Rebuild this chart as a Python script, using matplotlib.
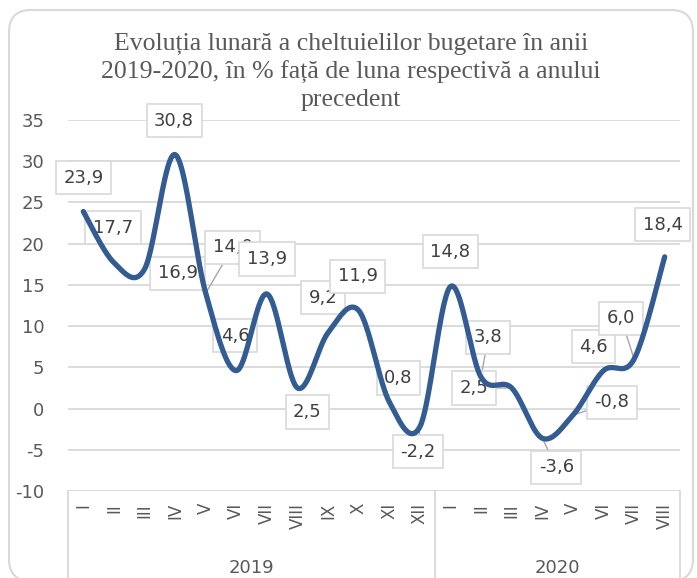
import numpy as np
import matplotlib
matplotlib.use("Agg")
import matplotlib.pyplot as plt
from matplotlib.patches import FancyBboxPatch
from matplotlib.transforms import IdentityTransform

# ---------------- data ----------------
months_2019 = ["I", "II", "III", "IV", "V", "VI", "VII", "VIII", "IX", "X", "XI", "XII"]
months_2020 = ["I", "II", "III", "IV", "V", "VI", "VII", "VIII"]
years = ["2019", "2020"]
values_2019 = [23.9, 17.7, 16.9, 30.8, 14.0, 4.6, 13.9, 2.5, 9.2, 11.9, 0.8, -2.2]
values_2020 = [14.8, 3.8, 2.5, -3.6, -0.8, 4.6, 6.0, 18.4]
y_ticks = [-10, -5, 0, 5, 10, 15, 20, 25, 30, 35]
title = ("Evoluția lunară a cheltuielilor bugetare în anii\n"
         "2019-2020, în % față de luna respectivă a anului\n"
         "precedent")

# label placement (pixel offsets of each data label box) and leader-line flags
label_offsets = [(0, 34), (-1, 35), (33, -4), (-1, 34), (27, 46), (-1, 35),
                 (0, 35), (10, -24), (-5, 35), (-1, 34), (9, 24), (-2, -25),
                 (0, 35), (7, 40), (-38, 0), (14, -29), (39, 13), (-10, 24),
                 (-13, 41), (-2, 32)]
leaders = [False, False, False, False, True, False, False, False, False, False,
           False, True, False, True, True, True, True, False, True, False]

W, H = 697, 578
LINE_COLOR = "#335c92"
GRID = "#d9d9d9"
TXT = "#595959"

labels = months_2019 + months_2020
values = values_2019 + values_2020
n = len(values)
xs = np.arange(n) + 0.5


def smooth(x, y, steps=40):
    pts = np.column_stack([x, y]).astype(float)
    outx, outy = [], []
    for i in range(len(pts) - 1):
        p0 = pts[i - 1] if i > 0 else pts[i]
        p1 = pts[i]
        p2 = pts[i + 1]
        p3 = pts[i + 2] if i + 2 < len(pts) else pts[i + 1]
        c1 = p1 + (p2 - p0) / 6.0
        c2 = p2 - (p3 - p1) / 6.0
        t = np.linspace(0, 1, steps)[:, None]
        b = ((1 - t) ** 3) * p1 + 3 * ((1 - t) ** 2) * t * c1 + 3 * (1 - t) * t ** 2 * c2 + t ** 3 * p2
        if i > 0:
            b = b[1:]
        outx.extend(b[:, 0])
        outy.extend(b[:, 1])
    return np.array(outx), np.array(outy)


fig = plt.figure(figsize=(W / 100, H / 100), dpi=100)
fig.patch.set_facecolor("white")

# rounded outer border
border = FancyBboxPatch((9, -3), 684, 571, boxstyle="round,pad=0,rounding_size=22",
                        ec=GRID, fc="none", lw=1.5, transform=IdentityTransform())
fig.add_artist(border)

ax_left, ax_right, ax_top, ax_bottom = 68, 680, 120, 491
ax = fig.add_axes([ax_left / W, 1 - ax_bottom / H, (ax_right - ax_left) / W, (ax_bottom - ax_top) / H])
ax.set_xlim(0, n)
ax.set_ylim(-10, 35)
ax.set_yticks(y_ticks)
ax.set_yticklabels([str(v) for v in y_ticks])
ax.set_xticks([])
for s in ax.spines.values():
    s.set_visible(False)
ax.tick_params(axis="y", length=0, pad=17, labelsize=13, labelcolor=TXT)
for lab in ax.get_yticklabels():
    lab.set_fontfamily("DejaVu Sans")
ax.grid(axis="y", color=GRID, lw=1.3)
ax.set_axisbelow(True)
ax.patch.set_alpha(0)

# smoothed line
sx, sy = smooth(xs, values)
ax.plot(sx, sy, color=LINE_COLOR, lw=3.8, solid_capstyle="round", zorder=4)

# data labels
for i, (x, v) in enumerate(zip(xs, values)):
    dx, dy = label_offsets[i]
    txt = f"{v:.1f}".replace(".", ",")
    kw = {}
    if leaders[i]:
        kw["arrowprops"] = dict(arrowstyle="-", color="#a6a6a6", lw=1.0, shrinkA=0, shrinkB=0)
    ax.annotate(txt, xy=(x, v), xytext=(dx, dy), textcoords="offset pixels",
                ha="center", va="center", fontsize=13, color="#404040",
                family="DejaVu Sans", zorder=3, annotation_clip=False,
                bbox=dict(boxstyle="square,pad=0.42", fc="white", ec=GRID, lw=1.2), **kw)

# category labels (rotated)
xt = ax.get_xaxis_transform()
for x, lab in zip(xs, labels):
    ax.annotate(lab, xy=(x, 0), xycoords=xt, xytext=(0, -12), textcoords="offset pixels",
                rotation=90, ha="center", va="top", fontsize=12, color=TXT,
                family="DejaVu Sans", annotation_clip=False)

# group separators
for xv in [0, len(months_2019), n]:
    ax.plot([xv, xv], [0, -0.3], transform=xt, color=GRID, lw=1.3, clip_on=False)

# year labels
centers = [len(months_2019) / 2, len(months_2019) + len(months_2020) / 2]
for c, yr in zip(centers, years):
    ax.annotate(yr, xy=(c, 0), xycoords=xt, xytext=(0, -77), textcoords="offset pixels",
                ha="center", va="center", fontsize=13, color=TXT,
                family="DejaVu Sans", annotation_clip=False)

# title
fig.text(351 / W, 1 - 72 / H, title, ha="center", va="center", multialignment="center",
         fontsize=18.5, color=TXT, family="Liberation Serif", linespacing=1.3)

fig.savefig("out.png", dpi=100)
